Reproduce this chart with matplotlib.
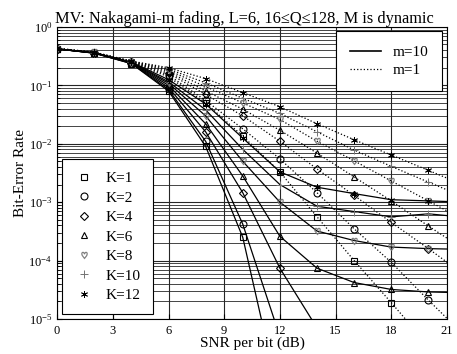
import matplotlib
matplotlib.use("Agg")
import matplotlib.pyplot as plt
from matplotlib.lines import Line2D

plt.rcParams['font.family'] = ['Liberation Serif', 'DejaVu Serif']
plt.rcParams['mathtext.fontset'] = 'stix'

# SNR per bit (dB), one sample every 2 dB
snr = [0, 2, 4, 6, 8, 10, 12, 14, 16, 18, 20, 22]

users = ['K=1', 'K=2', 'K=4', 'K=6', 'K=8', 'K=10', 'K=12']

# m=10 (solid)
k1_m10 = [0.42, 0.355, 0.235, 0.080, 9.0e-3, 2.5e-4, 4e-7]
k2_m10 = [0.42, 0.355, 0.237, 0.085, 1.1e-2, 4.2e-4, 5e-6]
k4_m10 = [0.42, 0.357, 0.240, 0.092, 1.6e-2, 1.45e-3, 7.4e-5, 7e-6]
k6_m10 = [0.42, 0.358, 0.242, 0.100, 2.2e-2, 2.8e-3, 2.6e-4, 7.4e-5, 4.2e-5, 3.2e-5, 2.9e-5, 2.8e-5]
k8_m10 = [0.42, 0.360, 0.245, 0.108, 3.0e-2, 5.0e-3, 1.0e-3, 3.2e-4, 2.2e-4, 1.7e-4, 1.6e-4, 1.55e-4]
k10_m10 = [0.42, 0.360, 0.248, 0.115, 3.8e-2, 8.0e-3, 2.0e-3, 8.5e-4, 6.9e-4, 5.6e-4, 6.3e-4, 5.5e-4]
k12_m10 = [0.42, 0.362, 0.250, 0.125, 4.8e-2, 1.25e-2, 3.3e-3, 1.8e-3, 1.4e-3, 1.1e-3, 1.05e-3, 1.0e-3]

# m=1 (dotted)
k1_m1 = [0.42, 0.360, 0.245, 0.14, 5.0e-2, 1.35e-2, 3.3e-3, 5.6e-4, 1.0e-4, 1.9e-5, 3.5e-6]
k2_m1 = [0.42, 0.360, 0.247, 0.15, 5.5e-2, 1.8e-2, 5.5e-3, 1.45e-3, 3.5e-4, 9.3e-5, 2.1e-5, 5e-6]
k4_m1 = [0.42, 0.362, 0.250, 0.16, 7.0e-2, 3.0e-2, 1.1e-2, 3.7e-3, 1.3e-3, 4.5e-4, 1.6e-4, 5.5e-5]
k6_m1 = [0.425, 0.363, 0.252, 0.17, 8.0e-2, 3.9e-2, 1.7e-2, 6.9e-3, 2.7e-3, 1.05e-3, 3.9e-4, 1.5e-4]
k8_m1 = [0.425, 0.365, 0.255, 0.18, 9.5e-2, 5.0e-2, 2.6e-2, 1.1e-2, 5.1e-3, 2.3e-3, 1.05e-3, 4.8e-4]
k10_m1 = [0.43, 0.367, 0.258, 0.19, 0.11, 6.0e-2, 3.3e-2, 1.6e-2, 7.8e-3, 4.1e-3, 2.2e-3, 1.2e-3]
k12_m1 = [0.43, 0.370, 0.260, 0.20, 0.13, 7.5e-2, 4.3e-2, 2.2e-2, 1.17e-2, 6.4e-3, 3.5e-3, 1.9e-3]

m10 = [k1_m10, k2_m10, k4_m10, k6_m10, k8_m10, k10_m10, k12_m10]
m1 = [k1_m1, k2_m1, k4_m1, k6_m1, k8_m1, k10_m1, k12_m1]

markers = ['s', 'o', 'D', '^', r'$\heartsuit$', '+', (6, 2, 0)]
msizes = [5, 5, 4.5, 5, 5, 6, 5]
mcolors = ['black', 'black', 'black', 'black', '0.45', '0.45', 'black']
mwidths = [0.8, 0.8, 0.8, 0.8, 0.4, 0.7, 0.6]

fig, ax = plt.subplots(figsize=(4.57, 3.54), dpi=100)
fig.subplots_adjust(left=0.125, right=0.978, top=0.924, bottom=0.099)

for i in range(len(users)):
    for vals, ls in ((m10[i], '-'), (m1[i], ':')):
        ax.plot(snr[:len(vals)], vals, color='black', lw=0.9, ls=ls,
                marker=markers[i], ms=msizes[i], mfc='none',
                mec=mcolors[i], mew=mwidths[i])

ax.set_yscale('log')
ax.set_xlim(0, 21)
ax.set_ylim(1e-5, 1)
ax.set_xticks(range(0, 22, 3))
ax.grid(True, which='major', color='0.15', lw=0.8, ls='-')
ax.grid(True, which='minor', axis='y', color='0.15', lw=0.6, ls='-')
ax.tick_params(which='both', direction='in', labelsize=9)
ax.tick_params(axis='x', pad=4)

ax.set_title('MV: Nakagami-m fading, L=6, 16\u2264Q\u2264128, M is dynamic',
             fontsize=11.8, pad=3, x=0.48)
ax.set_xlabel('SNR per bit (dB)', fontsize=11, labelpad=0)
ax.set_ylabel('Bit-Error Rate', fontsize=11, labelpad=1)

# line-style legend (m values)
style_handles = [Line2D([], [], color='black', lw=1.2, ls='-'),
                 Line2D([], [], color='black', lw=0.9, ls=':')]
leg1 = ax.legend(style_handles, ['m=10', 'm=1'], loc='upper right',
                 fontsize=11, frameon=True, fancybox=False,
                 edgecolor='black', framealpha=1, handlelength=2.0,
                 borderaxespad=0.3, labelspacing=0.3, borderpad=0.9)
leg1.get_frame().set_linewidth(0.8)
ax.add_artist(leg1)

# marker legend (number of users)
mk_handles = [Line2D([], [], ls='none', marker=markers[i], ms=msizes[i],
                     mfc='none', mec=mcolors[i], mew=mwidths[i])
              for i in range(len(users))]
leg2 = ax.legend(mk_handles, users, loc='lower left', fontsize=11,
                 frameon=True, fancybox=False, edgecolor='black',
                 framealpha=1, handlelength=1.3, labelspacing=0.38,
                 borderaxespad=0.3, borderpad=0.8)
leg2.get_frame().set_linewidth(0.8)

fig.savefig('out.png', dpi=100)
